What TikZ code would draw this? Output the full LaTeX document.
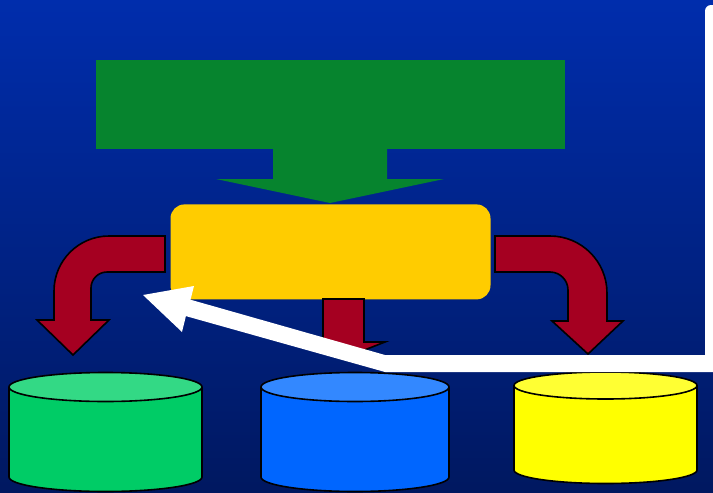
\documentclass[tikz,border=0pt]{standalone}
\usetikzlibrary{positioning}
\definecolor{bgtop}{RGB}{0,45,172}
\definecolor{bgbottom}{RGB}{0,24,96}
\definecolor{feedgreen}{RGB}{6,132,46}
\definecolor{hubyellow}{RGB}{255,204,0}
\definecolor{flowred}{RGB}{165,0,33}
\definecolor{cylgreen}{RGB}{0,204,102}
\definecolor{lidgreen}{RGB}{51,217,133}
\definecolor{cylblue}{RGB}{0,102,255}
\definecolor{lidblue}{RGB}{51,136,255}
\definecolor{cylyellow}{RGB}{255,255,0}
\definecolor{lidyellow}{RGB}{255,255,51}
\tikzset{
  flow/.style={draw=black, line width=1.6pt, fill=flowred, line join=miter},
  storeline/.style={draw=black, line width=1.6pt}
}

\begin{document}
\begin{tikzpicture}[x=1pt, y=-1pt]
\useasboundingbox (0,0) rectangle (713,493);
\shade[top color=bgtop, bottom color=bgbottom] (0,0) rectangle (713,493);

\node[fill=feedgreen, minimum width=469pt, minimum height=89pt, inner sep=0pt] (source) at (330.5,104.5) {};
\fill[feedgreen] (273,148) -- (387,148) -- (387,179) -- (444,179) -- (330,203) -- (216,179) -- (273,179) -- cycle;
\node[fill=hubyellow, rounded corners=14pt, minimum width=320pt, minimum height=95pt, inner sep=0pt, below=55pt of source] (hub) {};

\draw[flow] (165,272) -- (165,236) [rounded corners=55pt] -- (54,236) [sharp corners] -- (54,320) -- (37,320) -- (73,355) -- (109,320) -- (91,320) [rounded corners=16pt] -- (91,272) [sharp corners] -- cycle;
\draw[flow] (495,272) -- (495,236) [rounded corners=57pt] -- (607,236) [sharp corners] -- (607,321) -- (623,321) -- (588,354) -- (552,321) -- (568,321) [rounded corners=18pt] -- (568,272) [sharp corners] -- cycle;
\draw[flow] (323,299) -- (364,299) -- (364,342) -- (385,342) -- (344,358) -- (302,342) -- (323,342) -- cycle;

\foreach \name/\xl/\xr/\yt/\yb/\ry/\body/\lid in {store1/9/202/387/477/14.5/cylgreen/lidgreen, store2/261/449/387/477/14.5/cylblue/lidblue, store3/514/697/385.5/470/13.5/cylyellow/lidyellow}{
  \pgfmathsetmacro{\cx}{(\xl+\xr)/2}
  \pgfmathsetmacro{\rx}{(\xr-\xl)/2}
  \draw[storeline, fill=\body] (\cx,\yb) ellipse[x radius=\rx, y radius=\ry];
  \fill[\body] (\xl,\yt) rectangle (\xr,\yb);
  \draw[storeline] (\xl,\yt) -- (\xl,\yb) (\xr,\yt) -- (\xr,\yb);
  \draw[storeline, fill=\lid] (\cx,\yt) ellipse[x radius=\rx, y radius=\ry];
  \coordinate (\name) at (\cx,\yt);
}

\fill[white] (143,295) -- (194,286) -- (190.5,299.7) -- (385,355) -- (705,355) [rounded corners=6pt] -- (705,5) [sharp corners] -- (713,5) -- (713,372) -- (385,372) -- (185.9,316.1) -- (182,332) -- cycle;
\end{tikzpicture}
\end{document}
